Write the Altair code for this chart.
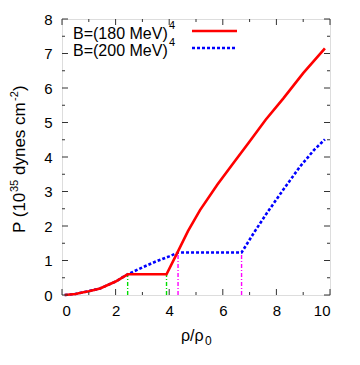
import altair as alt
import pandas as pd

# Data
red_x = [0.1, 0.5, 0.8, 1.0, 1.42, 2.0, 2.45, 3.9, 4.3, 4.7, 5.15, 5.8, 6.39, 7.0, 7.6, 8.26, 9.0, 9.81]
red_y = [0.0, 0.03, 0.08, 0.11, 0.19, 0.39, 0.6, 0.6, 1.22, 1.85, 2.46, 3.2, 3.82, 4.45, 5.08, 5.7, 6.43, 7.15]
blue_x = [0.1, 0.5, 0.8, 1.0, 1.42, 2.0, 2.45, 3.0, 3.5, 4.0, 4.33, 6.7, 7.2, 7.64, 8.3, 8.88, 9.4, 9.81]
blue_y = [0.0, 0.03, 0.08, 0.11, 0.19, 0.39, 0.6, 0.8, 0.97, 1.12, 1.23, 1.23, 1.85, 2.37, 3.1, 3.72, 4.2, 4.51]
green_x = [2.45, 3.9]
green_top = [0.6, 0.6]
magenta_x = [4.33, 6.7]
magenta_top = [1.23, 1.23]
x_major = [0, 2, 4, 6, 8, 10]
x_minor = [1, 3, 5, 7, 9]
y_major = [0, 1, 2, 3, 4, 5, 6, 7, 8]
y_minor = [0.5, 1.5, 2.5, 3.5, 4.5, 5.5, 6.5, 7.5]
legend_labels = ["B=(180 MeV)", "B=(200 MeV)"]
legend_sup = "4"
y_title_parts = ["P (10", "35", "dynes cm", "-2", ")"]
x_title_parts = ["ρ/ρ", "0"]

W, H = 268, 276
FONT = "Liberation Sans"
FRAME = "#333333"

xs = alt.Scale(domain=[0, 10], nice=False, zero=False)
ys = alt.Scale(domain=[0, 8], nice=False, zero=False)

axis_x = alt.Axis(values=x_major, ticks=False, domain=False, grid=False, labelFont=FONT,
                  labelFontSize=15, labelColor="black", labelPadding=8, labelOverlap=False,
                  title=None)
axis_y = alt.Axis(values=y_major, ticks=False, domain=False, grid=False, labelFont=FONT,
                  labelFontSize=15, labelColor="black", labelPadding=10, labelOverlap=False,
                  title=None)


def X(f):
    return alt.X(f, scale=xs, axis=axis_x)


def Y(f):
    return alt.Y(f, scale=ys, axis=axis_y)


red_df = pd.DataFrame({"x": red_x, "y": red_y})
blue_df = pd.DataFrame({"x": blue_x, "y": blue_y})
green_df = pd.DataFrame({"x": green_x, "y0": [0] * len(green_x), "y1": green_top})
mag_df = pd.DataFrame({"x": magenta_x, "y0": [0] * len(magenta_x), "y1": magenta_top})

green = alt.Chart(green_df).mark_rule(color="#00dd00", strokeWidth=1.4, strokeDash=[4, 2, 1, 2]).encode(
    x=X("x:Q"), y=Y("y0:Q"), y2="y1:Q")
mag = alt.Chart(mag_df).mark_rule(color="#ff00ff", strokeWidth=1.4, strokeDash=[4, 2, 1, 2]).encode(
    x=X("x:Q"), y=Y("y0:Q"), y2="y1:Q")

red = alt.Chart(red_df).mark_line(color="#ff0000", strokeWidth=2.6).encode(
    x=X("x:Q"), y=Y("y:Q"))
blue = alt.Chart(blue_df).mark_line(color="#0000ff", strokeWidth=2.6, strokeDash=[3, 2]).encode(
    x=X("x:Q"), y=Y("y:Q"))


# inward ticks on all four sides
def xticks(vals, size):
    d = pd.DataFrame({"x": vals})
    b = alt.Chart(d).mark_rule(color=FRAME, strokeWidth=1).encode(
        x=X("x:Q"), y=alt.value(H), y2=alt.value(H - size))
    t = alt.Chart(d).mark_rule(color=FRAME, strokeWidth=1).encode(
        x=X("x:Q"), y=alt.value(0), y2=alt.value(size))
    return b + t


def yticks(vals, size):
    d = pd.DataFrame({"y": vals})
    l = alt.Chart(d).mark_rule(color=FRAME, strokeWidth=1).encode(
        y=Y("y:Q"), x=alt.value(0), x2=alt.value(size))
    r = alt.Chart(d).mark_rule(color=FRAME, strokeWidth=1).encode(
        y=Y("y:Q"), x=alt.value(W), x2=alt.value(W - size))
    return l + r


ticks = xticks(x_major, 6) + xticks(x_minor, 3) + yticks(y_major, 6) + yticks(y_minor, 3)

one = pd.DataFrame({"a": [0]})


def txt(s, x, y, size, angle=0, baseline="middle"):
    kw = dict(align="left", baseline=baseline, font=FONT, fontSize=size, color="black", text=s)
    if angle:
        kw["angle"] = angle
    return alt.Chart(one).mark_text(**kw).encode(x=alt.value(x), y=alt.value(y))


# legend
leg = (
    txt(legend_labels[0], 11, 15, 16) + txt(legend_sup, 107, 7, 11)
    + txt(legend_labels[1], 11, 32, 16) + txt(legend_sup, 107, 24, 11)
    + alt.Chart(one).mark_rule(color="#ff0000", strokeWidth=2.6).encode(
        x=alt.value(130), x2=alt.value(175), y=alt.value(12))
    + alt.Chart(one).mark_rule(color="#0000ff", strokeWidth=2.6, strokeDash=[3, 2]).encode(
        x=alt.value(130), x2=alt.value(175), y=alt.value(29))
)

# y-axis title with superscripts (rotated)
ytitle = (
    txt(y_title_parts[0], -37, 214, 17, angle=270, baseline="alphabetic")
    + txt(y_title_parts[1], -44, 173, 11, angle=270, baseline="alphabetic")
    + txt(y_title_parts[2], -37, 156, 17, angle=270, baseline="alphabetic")
    + txt(y_title_parts[3], -44, 82, 11, angle=270, baseline="alphabetic")
    + txt(y_title_parts[4], -37, 72, 17, angle=270, baseline="alphabetic")
)

# x-axis title with subscript
xtitle = (
    txt(x_title_parts[0], 119, 322, 16, baseline="alphabetic")
    + txt(x_title_parts[1], 143, 326, 12, baseline="alphabetic")
)

chart = alt.layer(green, mag, blue, red, ticks, leg, ytitle, xtitle).properties(
    width=W, height=H,
    padding={"left": 54, "top": 11, "right": 22, "bottom": 62},
    autosize=alt.AutoSizeParams(type="none"),
).configure_view(stroke=FRAME, strokeWidth=1.2).configure(background="white")

chart.save("out.html", embed_options={"renderer": "svg", "actions": False})
